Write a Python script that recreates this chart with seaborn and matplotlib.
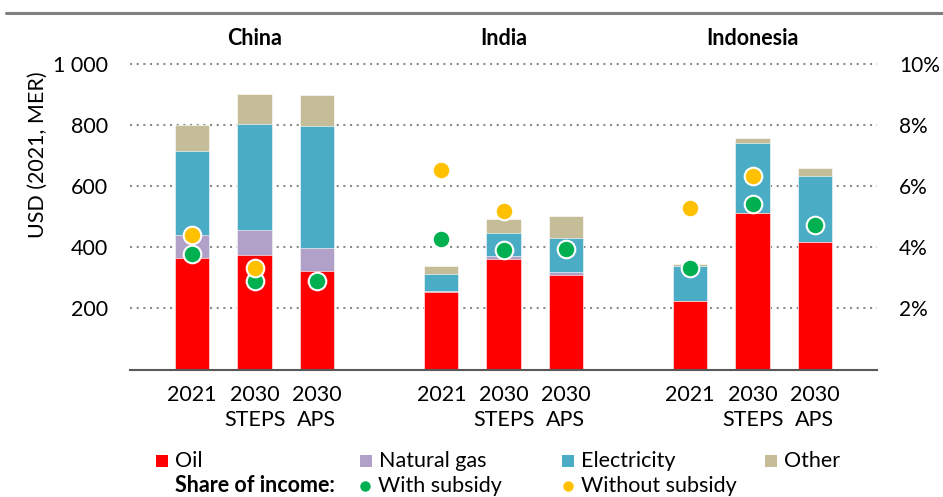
import matplotlib
matplotlib.use("Agg")
import matplotlib.pyplot as plt
from matplotlib.patches import Rectangle
from matplotlib.lines import Line2D
import numpy as np
import pandas as pd
import seaborn as sns

# ---- data -------------------------------------------------------------
regions = ["China", "India", "Indonesia"]
cases = ["2021", "2030\nSTEPS", "2030\nAPS"]

oil = [366, 374, 322, 255, 362, 309, 224, 513, 417]
natural_gas = [73, 81, 76, 2, 8, 9, 0, 0, 0]
electricity = [277, 349, 398, 54, 77, 112, 115, 229, 217]
other = [85, 97, 101, 27, 44, 72, 5, 15, 25]

share_with_subsidy = [3.78, 2.90, 2.89, 4.28, 3.90, 3.96, 3.33, 5.43, 4.73]
share_without_subsidy = [4.39, 3.31, np.nan, 6.52, 5.18, np.nan, 5.29, 6.34, np.nan]

y_ticks = [200, 400, 600, 800, 1000]
y_tick_labels = ["200", "400", "600", "800", "1 000"]
pct_ticks = [2, 4, 6, 8, 10]
pct_tick_labels = ["2%", "4%", "6%", "8%", "10%"]

# ---- style ------------------------------------------------------------
C_OIL = "#FF0000"
C_GAS = "#B1A0C7"
C_ELEC = "#4BACC6"
C_OTHER = "#C4BD97"
C_WITH = "#00B050"
C_WITHOUT = "#FFC000"
TXT = "#000000"

sns.set_theme(style="white")
plt.rcParams["font.family"] = ["Lato", "DejaVu Sans"]
FS = 15.5

W, H = 943, 497
fig = plt.figure(figsize=(W / 100, H / 100), dpi=100)


def fx(px):
    return px / W


def fy(py):
    return 1 - py / H


ax_left, ax_right, ax_top, ax_bottom = 130, 877, 64, 369.5
ax = fig.add_axes([fx(ax_left), fy(ax_bottom), fx(ax_right - ax_left),
                   (ax_bottom - ax_top) / H])

# bar positions: three bars per region, one empty slot between regions
positions = [g * 4 + i for g in range(len(regions)) for i in range(len(cases))]

df = pd.DataFrame({
    "pos": positions,
    "oil": oil,
    "gas": natural_gas,
    "elec": electricity,
    "other": other,
    "with": share_with_subsidy,
    "without": share_without_subsidy,
})
df["top_gas"] = df["oil"] + df["gas"]
df["top_elec"] = df["top_gas"] + df["elec"]
df["top_other"] = df["top_elec"] + df["other"]

# stacked bars: cumulative totals drawn from the top layer down
bar_kw = dict(x="pos", native_scale=True, width=0.55, errorbar=None,
              edgecolor=(1, 1, 1, 0.7), linewidth=0.6, ax=ax, zorder=3)
sns.barplot(data=df, y="top_other", color=C_OTHER, saturation=1, **bar_kw)
sns.barplot(data=df, y="top_elec", color=C_ELEC, saturation=1, **bar_kw)
sns.barplot(data=df, y="top_gas", color=C_GAS, saturation=1, **bar_kw)
sns.barplot(data=df, y="oil", color=C_OIL, saturation=1, **bar_kw)

ax.set_xlim(-1, 11)
ax.set_ylim(0, 1000)
ax.set_xlabel("")
ax.set_ylabel("")

# dotted horizontal gridlines
for t in y_ticks:
    ax.axhline(t, color="#8C8C8C", linewidth=1.5, linestyle=(0, (1, 2.2)),
               zorder=1, clip_on=False)

for side in ["left", "right", "top"]:
    ax.spines[side].set_visible(False)
ax.spines["bottom"].set_color("#595959")
ax.spines["bottom"].set_linewidth(1.5)
ax.spines["bottom"].set_zorder(4)

ax.set_yticks(y_ticks)
ax.set_yticklabels(y_tick_labels)
ax.set_xticks(positions)
ax.set_xticklabels(cases * len(regions), linespacing=1.3)
ax.tick_params(axis="y", length=0, pad=16, labelsize=FS, labelcolor=TXT)
ax.tick_params(axis="x", length=0, pad=11, labelsize=FS, labelcolor=TXT)

# share-of-income dots on the secondary axis
ax2 = ax.twinx()
ax2.set_ylim(0, 10)
dot_kw = dict(x="pos", s=160, edgecolor="white", linewidth=1.5, ax=ax2,
              legend=False, zorder=5)
sns.scatterplot(data=df, y="with", color=C_WITH, **dot_kw)
sns.scatterplot(data=df.dropna(subset=["without"]), y="without",
                color=C_WITHOUT, **dot_kw)
ax2.set_xlim(-1, 11)
ax2.set_ylabel("")
ax2.set_yticks(pct_ticks)
ax2.set_yticklabels(pct_tick_labels)
ax2.tick_params(axis="y", length=0, pad=16, labelsize=15, labelcolor=TXT)
for side in ["left", "right", "top", "bottom"]:
    ax2.spines[side].set_visible(False)

# region headings
for g, name in enumerate(regions):
    ax.text(g * 4 + 1, 1.085, name, transform=ax.get_xaxis_transform(),
            ha="center", va="center", fontsize=FS, fontweight="bold",
            color=TXT)

# y-axis title
fig.text(fx(38), fy(155), "USD (2021, MER)", rotation=90, ha="center",
         va="center", fontsize=FS, color=TXT)

# rule across the top
fig.add_artist(Line2D([fx(6), 1], [fy(13), fy(13)], transform=fig.transFigure,
                      color="#808080", linewidth=2.2))

# legend
row1, row2 = 461, 486
sq = 12
for xm, label, col in [(156, "Oil", C_OIL), (360, "Natural gas", C_GAS),
                       (562, "Electricity", C_ELEC), (765, "Other", C_OTHER)]:
    fig.add_artist(Rectangle((fx(xm), fy(row1 + sq / 2)), fx(sq), sq / H,
                             transform=fig.transFigure, facecolor=col,
                             edgecolor="none"))
    fig.text(fx(xm + 19), fy(row1), label, ha="left", va="center",
             fontsize=FS, color=TXT)

fig.text(fx(175), fy(row2), "Share of income:", ha="left", va="center",
         fontsize=FS, fontweight="bold", color=TXT)
for xm, label, col in [(365, "With subsidy", C_WITH),
                       (568, "Without subsidy", C_WITHOUT)]:
    fig.add_artist(Line2D([fx(xm)], [fy(row2)], transform=fig.transFigure,
                          marker="o", markersize=7.5, color=col,
                          markeredgewidth=0, linestyle="none"))
    fig.text(fx(xm + 13), fy(row2), label, ha="left", va="center",
             fontsize=FS, color=TXT)

fig.savefig("out.png", dpi=100)
